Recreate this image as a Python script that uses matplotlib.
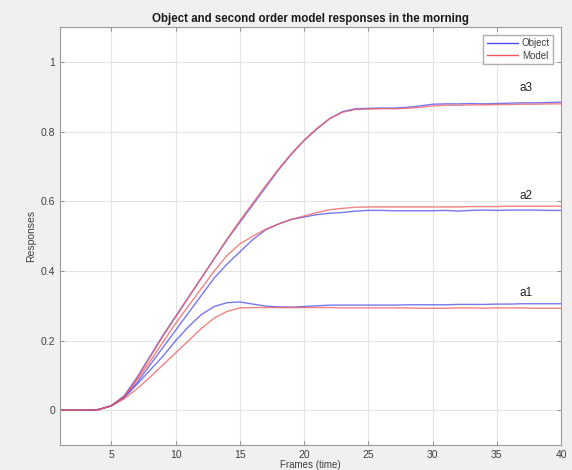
import matplotlib
matplotlib.use("Agg")
import matplotlib.pyplot as plt
import numpy as np

plt.rcParams["font.family"] = ["Liberation Sans", "DejaVu Sans"]

frames = np.arange(1, 41)

# object responses (blue)
a1_object = [0, 0, 0, 0.002, 0.013, 0.037, 0.075, 0.115, 0.155, 0.200,
             0.240, 0.275, 0.298, 0.309, 0.311, 0.305, 0.299, 0.297, 0.296, 0.298,
             0.300, 0.302, 0.302, 0.302, 0.302, 0.302, 0.302, 0.303, 0.303, 0.303,
             0.303, 0.304, 0.304, 0.304, 0.305, 0.305, 0.306, 0.306, 0.306, 0.306]
a2_object = [0, 0, 0, 0.002, 0.013, 0.038, 0.080, 0.130, 0.180, 0.230,
             0.280, 0.330, 0.380, 0.420, 0.455, 0.490, 0.518, 0.535, 0.548, 0.555,
             0.562, 0.566, 0.568, 0.572, 0.574, 0.574, 0.573, 0.573, 0.573, 0.573,
             0.574, 0.572, 0.574, 0.575, 0.574, 0.575, 0.575, 0.575, 0.574, 0.574]
a3_object = [0, 0, 0, 0.002, 0.013, 0.042, 0.095, 0.155, 0.215, 0.270,
             0.325, 0.380, 0.435, 0.490, 0.540, 0.590, 0.640, 0.690, 0.735, 0.775,
             0.808, 0.838, 0.858, 0.866, 0.867, 0.868, 0.868, 0.870, 0.874, 0.879,
             0.880, 0.880, 0.881, 0.880, 0.881, 0.882, 0.883, 0.883, 0.884, 0.885]

# second order model responses (red)
a1_model = [0, 0, 0, 0.002, 0.013, 0.033, 0.062, 0.095, 0.130, 0.165,
            0.200, 0.235, 0.265, 0.284, 0.294, 0.295, 0.295, 0.295, 0.295, 0.295,
            0.295, 0.295, 0.294, 0.294, 0.294, 0.294, 0.294, 0.294, 0.293, 0.293,
            0.293, 0.294, 0.294, 0.293, 0.294, 0.294, 0.294, 0.293, 0.293, 0.293]
a2_model = [0, 0, 0, 0.002, 0.013, 0.040, 0.088, 0.140, 0.195, 0.250,
            0.300, 0.350, 0.400, 0.445, 0.478, 0.500, 0.520, 0.535, 0.548, 0.558,
            0.568, 0.576, 0.580, 0.583, 0.584, 0.584, 0.584, 0.584, 0.584, 0.584,
            0.584, 0.584, 0.585, 0.585, 0.585, 0.586, 0.586, 0.586, 0.586, 0.586]
a3_model = [0, 0, 0, 0.002, 0.013, 0.040, 0.092, 0.152, 0.212, 0.268,
            0.324, 0.380, 0.436, 0.492, 0.545, 0.595, 0.645, 0.693, 0.737, 0.776,
            0.810, 0.838, 0.856, 0.864, 0.865, 0.866, 0.866, 0.867, 0.870, 0.874,
            0.876, 0.876, 0.877, 0.877, 0.878, 0.878, 0.879, 0.879, 0.880, 0.880]

labels = ["a1", "a2", "a3"]
label_y = [0.338, 0.615, 0.926]

fig = plt.figure(figsize=(5.72, 4.70), dpi=100, facecolor="#f0f0f0")
ax = fig.add_axes([0.105, 0.053, 0.876, 0.889])
ax.set_facecolor("white")

blue = "#4a4af0"
red = "#f05a5a"
for obj, mod in [(a1_object, a1_model), (a2_object, a2_model), (a3_object, a3_model)]:
    ax.plot(frames, obj, color=blue, lw=1.0, alpha=0.75)
    ax.plot(frames, mod, color=red, lw=1.0, alpha=0.75)

for lab, ly in zip(labels, label_y):
    ax.text(37.3, ly, lab, fontsize=8.5, color="#262626", ha="center", va="center")

ax.set_xlim(1, 40)
ax.set_ylim(-0.1, 1.1)
ax.set_xticks([5, 10, 15, 20, 25, 30, 35, 40])
ax.set_yticks([0, 0.2, 0.4, 0.6, 0.8, 1])
ax.set_yticklabels(["0", "0.2", "0.4", "0.6", "0.8", "1"])
ax.grid(True, color="#e4e4e4", lw=0.8)
ax.set_axisbelow(True)
ax.tick_params(direction="in", length=3, width=0.6, top=True, right=True,
               labelsize=7.5, labelcolor="#404040", color="#808080")
for s in ax.spines.values():
    s.set_color("#9a9a9a")
    s.set_linewidth(0.8)

ax.set_title("Object and second order model responses in the morning",
             fontsize=8.3, fontweight="bold", color="#1a1a1a", pad=4)
ax.set_xlabel("Frames (time)", fontsize=7, color="#404040", labelpad=0)
ax.set_ylabel("Responses", fontsize=7.5, color="#404040", labelpad=3)

ax.plot([], [], color=blue, lw=1.0, label="Object")
ax.plot([], [], color=red, lw=1.0, label="Model")
handles, names = ax.get_legend_handles_labels()
leg = ax.legend(handles, names, loc="upper right", fontsize=7, frameon=True,
                fancybox=False, edgecolor="#9a9a9a", handlelength=3.2,
                borderaxespad=0.8, borderpad=0.35, labelspacing=0.25,
                handletextpad=0.4)
for t in leg.get_texts():
    t.set_color("#404040")

fig.savefig("out.png", dpi=100, facecolor=fig.get_facecolor())
